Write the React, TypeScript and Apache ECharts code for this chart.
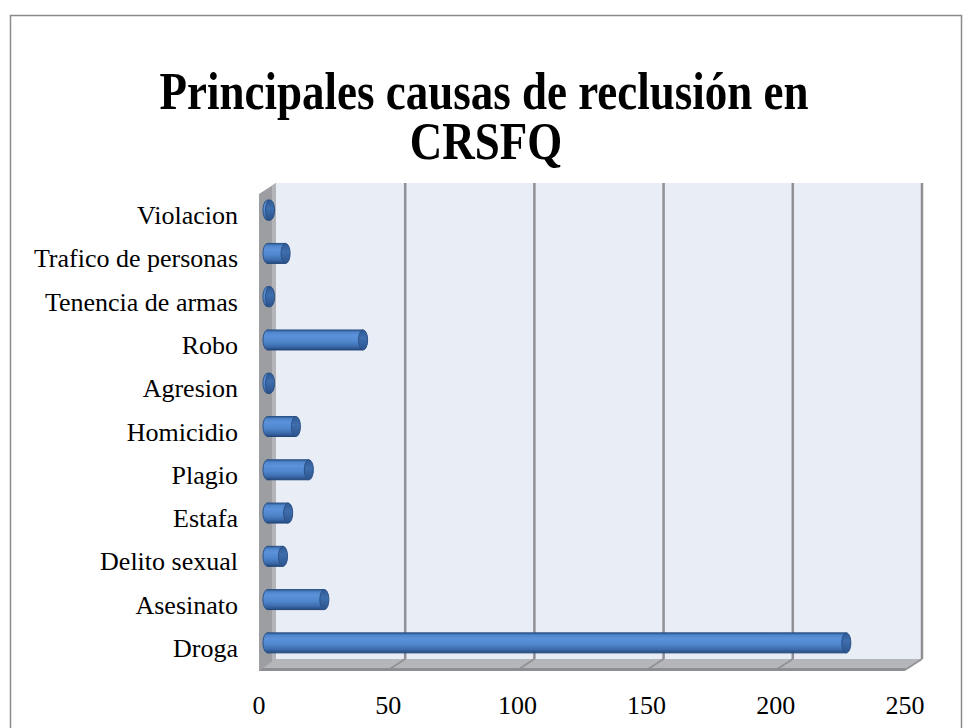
import React, { useEffect, useRef } from "react";
import * as echarts from "echarts";

const categories = [
  "Droga",
  "Asesinato",
  "Delito sexual",
  "Estafa",
  "Plagio",
  "Homicidio",
  "Agresion",
  "Robo",
  "Tenencia de armas",
  "Trafico de personas",
  "Violacion",
];
const values = [224, 22, 6, 8, 16, 11, 1, 37, 1, 7, 1];
const xTicks = [0, 50, 100, 150, 200, 250];
const titleLines = ["Principales causas de reclusión en", "CRSFQ"];

const DX = 17;
const DY = -11;
const FONT = "'Liberation Serif', 'Times New Roman', serif";

export default function App() {
  const ref = useRef<HTMLDivElement>(null);

  useEffect(() => {
    const chart = echarts.init(ref.current!, null, { renderer: "svg" });

    const wallsRender = (params: any, api: any) => {
      const cs = params.coordSys;
      const x = cs.x, y = cs.y, w = cs.width, h = cs.height;
      const children: any[] = [];
      children.push({
        type: "rect",
        shape: { x: x + DX, y: y + DY, width: w, height: h },
        style: { fill: "#e9edf6" },
      });
      children.push({
        type: "polygon",
        shape: { points: [[x, y + h], [x + DX, y + h + DY], [x + w + DX, y + h + DY], [x + w, y + h]] },
        style: { fill: "#b4b6b9" },
      });
      xTicks.forEach((t) => {
        if (t === 0) return;
        const px = api.coord([t, 0])[0];
        children.push({
          type: "line",
          shape: { x1: px + DX, y1: y + DY, x2: px + DX, y2: y + h + DY },
          style: { stroke: "#8f9093", lineWidth: 2.5 },
        });
        children.push({
          type: "line",
          shape: { x1: px + DX, y1: y + h + DY, x2: px, y2: y + h },
          style: { stroke: "#8f9093", lineWidth: 1.5 },
        });
      });
      children.push({
        type: "rect",
        shape: { x: x, y: y + h - 2, width: w, height: 3 },
        style: { fill: "#8d8e91" },
      });
      children.push({
        type: "polygon",
        shape: { points: [[x, y], [x + DX, y + DY], [x + DX, y + h + DY], [x, y + h + 1]] },
        style: { fill: "#9c9ea2" },
      });
      children.push({
        type: "polygon",
        shape: {
          points: [[x + DX - 4, y + DY + 2.6], [x + DX, y + DY], [x + DX, y + h + DY], [x + DX - 4, y + h + DY + 2.6]],
        },
        style: { fill: "#b3b5b8" },
      });
      return { type: "group", children };
    };

    const barRender = (params: any, api: any) => {
      const v = api.value(0);
      const i = api.value(1);
      const p0 = api.coord([0, i]);
      const p1 = api.coord([v, i]);
      const bh = 20;
      const rx = 4.5;
      const off = 0.5;
      const x0 = p0[0] + DX * off;
      const x1 = p1[0] + DX * off;
      const cy = p0[1] + DY * off;
      const grad = new echarts.graphic.LinearGradient(0, 0, 0, 1, [
        { offset: 0, color: "#2f5b93" },
        { offset: 0.12, color: "#4f86cc" },
        { offset: 0.3, color: "#5b92da" },
        { offset: 0.6, color: "#4f85cb" },
        { offset: 0.82, color: "#3d6cae" },
        { offset: 1, color: "#254a7e" },
      ]);
      const capGrad = new echarts.graphic.LinearGradient(0, 0, 0, 1, [
        { offset: 0, color: "#2f5a92" },
        { offset: 0.4, color: "#3f6eae" },
        { offset: 1, color: "#2c548c" },
      ]);
      return {
        type: "group",
        children: [
          {
            type: "ellipse",
            shape: { cx: x0, cy, rx, ry: bh / 2 },
            style: { fill: grad, stroke: "#2c5287", lineWidth: 1 },
          },
          {
            type: "rect",
            shape: { x: x0, y: cy - bh / 2, width: Math.max(0, x1 - x0), height: bh },
            style: { fill: grad },
          },
          {
            type: "line",
            shape: { x1: x0, y1: cy - bh / 2, x2: x1, y2: cy - bh / 2 },
            style: { stroke: "#2c5287", lineWidth: 1 },
          },
          {
            type: "line",
            shape: { x1: x0, y1: cy + bh / 2, x2: x1, y2: cy + bh / 2 },
            style: { stroke: "#22467a", lineWidth: 1 },
          },
          {
            type: "ellipse",
            shape: { cx: x1, cy, rx, ry: bh / 2 },
            style: { fill: capGrad, stroke: "#2a5086", lineWidth: 1 },
          },
        ],
      };
    };

    const option: any = {
      animation: false,
      backgroundColor: "#ffffff",
      grid: { left: 259, right: 59, top: 194, bottom: 58 },
      xAxis: {
        type: "value",
        min: 0,
        max: 250,
        interval: 50,
        axisLine: { show: false },
        axisTick: { show: false },
        splitLine: { show: false },
        axisLabel: { fontSize: 26, fontFamily: FONT, color: "#000", margin: 22 },
      },
      yAxis: {
        type: "category",
        data: categories,
        axisLine: { show: false },
        axisTick: { show: false },
        splitLine: { show: false },
        axisLabel: { fontSize: 26, fontFamily: FONT, color: "#000", margin: 21 },
      },
      graphic: [
        {
          type: "rect",
          shape: { x: 10.5, y: 15.5, width: 951, height: 740 },
          style: { fill: "none", stroke: "#8a8a8a", lineWidth: 1.5 },
          z: -10,
        },
        {
          type: "text",
          x: 484,
          y: 91,
          scaleY: 1.18,
          style: {
            text: titleLines[0],
            textAlign: "center",
            textVerticalAlign: "middle",
            font: `bold 45px ${FONT}`,
            fill: "#000",
          },
        },
        {
          type: "text",
          x: 486,
          y: 141,
          scaleY: 1.18,
          style: {
            text: titleLines[1],
            textAlign: "center",
            textVerticalAlign: "middle",
            font: `bold 45px ${FONT}`,
            fill: "#000",
          },
        },
      ],
      series: [
        {
          type: "custom",
          z: 1,
          silent: true,
          data: [[0, 0]],
          encode: { x: 0, y: 1 },
          renderItem: wallsRender,
        },
        {
          type: "custom",
          z: 2,
          data: values.map((v, i) => [v, i]),
          encode: { x: 0, y: 1 },
          renderItem: barRender,
        },
      ],
    };
    chart.setOption(option);
    return () => chart.dispose();
  }, []);

  return (
    <div
      ref={ref}
      style={{ position: "absolute", left: 0, top: 0, width: 964, height: 728, background: "#fff" }}
    />
  );
}
